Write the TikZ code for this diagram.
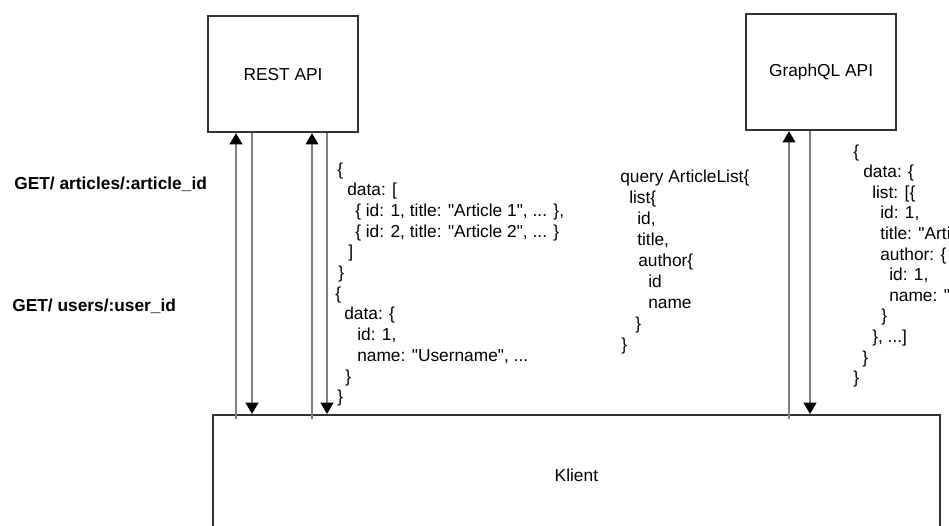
\documentclass[tikz,border=0pt]{standalone}
\usepackage{fontspec}
\setmainfont{Liberation Sans}
\newfontfamily\codefont{Liberation Sans}
\usetikzlibrary{arrows.meta, positioning, calc}

\begin{document}
\begin{tikzpicture}[
    x=0.75pt, y=-0.75pt,
    server/.style={draw=black!80, line width=1.6pt, minimum width=112.5pt, minimum height=87pt, anchor=north west, font=\fontsize{13}{16}\selectfont},
    flow/.style={draw=black!50, line width=1.5pt, -{Triangle[width=9.5pt, length=8.5pt, color=black]}},
    code/.style={anchor=base west, inner sep=0pt, font=\codefont\fontsize{13}{16}\selectfont},
    request/.style={code, font=\codefont\fontsize{13}{16}\selectfont\bfseries}
]

% Frame
\useasboundingbox (0,0) rectangle (949,525);
\clip (0,0) rectangle (949,525);

% Servers and client
\node[server] (rest) at (207,15) {REST API};
\node[server] (graphql) at (745,13) {GraphQL API};
\node[server, minimum width=545pt, minimum height=90pt] (klient) at (212,414) {Klient};

% REST: two round trips
\foreach \up/\down [count=\i] in {236/252, 312/327} {
    \coordinate (restup\i) at (\up,0);
    \coordinate (restdown\i) at (\down,0);
    \draw[flow] ($(klient.north -| restup\i)+(0,5)$) -- (rest.south -| restup\i);
    \draw[flow] (rest.south -| restdown\i) -- (klient.north -| restdown\i);
}

% GraphQL: one round trip
\coordinate (gqlup) at (789,0);
\coordinate (gqldown) at (810,0);
\draw[flow] ($(klient.north -| gqlup)+(0,5)$) -- (graphql.south -| gqlup);
\draw[flow] (graphql.south -| gqldown) -- (klient.north -| gqldown);

% Requests
\node[request] (getarticles) at (14,189) {GET/ articles/:article\_id};
\node[request] (getusers) at (12,311) {GET/ users/:user\_id};

% REST responses
\foreach \dx/\txt [count=\i from 0] in {
    2/\{,
    12/{data: [},
    20/{\{ id: 1, title: "Article 1", ... \},},
    20/{\{ id: 2, title: "Article 2", ... \}},
    13/],
    3/\},
    0/\{,
    9/{data: \{},
    22/{id: 1,},
    22/{name: "Username", ...},
    10/\},
    2/\}} {
    \node[code] (restjson\i) at ({335+\dx}, {175+20.7*\i}) {\txt};
}

% GraphQL query
\foreach \dx/\txt [count=\i from 0] in {
    0/{query ArticleList\{},
    9/{list\{},
    17/{id,},
    17/{title,},
    18/{author\{},
    28/id,
    28/name,
    15/\},
    1/\}} {
    \node[code] (query\i) at ({620+\dx}, {182+21.1*\i}) {\txt};
}

% GraphQL response
\foreach \dx/\txt [count=\i from 0] in {
    0/\{,
    10/{data: \{},
    19/{list: [\{},
    27/{id: 1,},
    27/{title: "Article 1",},
    27/{author: \{},
    36/{id: 1,},
    36/{name: "Username"},
    28/\},
    19/{\}, ...]},
    9/\},
    0/\}} {
    \node[code] (gqljson\i) at ({853+\dx}, {157+20.6*\i}) {\txt};
}

\end{tikzpicture}
\end{document}
